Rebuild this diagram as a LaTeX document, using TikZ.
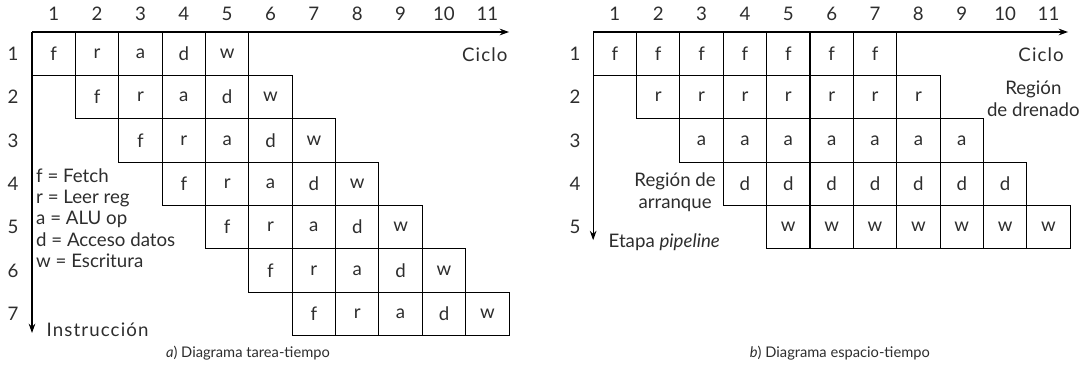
\documentclass[tikz,border=0pt]{standalone}
\usepackage{fontspec}
\setmainfont{Lato}
\newfontfamily\spacedfont[LetterSpace=6]{Lato}
\usetikzlibrary{arrows.meta,positioning}
\definecolor{TxtGray}{RGB}{45,45,45}
\tikzset{
  cell/.style={draw=black,line width=0.75pt,minimum size=32.5pt,inner sep=0pt,text=TxtGray},
  lab/.style={inner sep=1pt,text=TxtGray},
  axis/.style={-{Stealth[length=7pt,width=5pt]},line width=0.8pt,black},
  capt/.style={inner sep=1pt,text=TxtGray,font=\fontsize{11}{13}\selectfont},
}

\begin{document}
\begin{tikzpicture}[x=32.5pt,y=32.5pt,font=\fontsize{14}{16.5}\selectfont]
  \useasboundingbox (-0.738,0.738) rectangle (24.42,-7.957);
  % a) diagrama tarea-tiempo
  \foreach \i in {1,...,7}
    \foreach \s [count=\k] in {f,r,a,d,w}
      \node[cell] (tt-\i-\k) at ({\i+\k-1.5},{0.5-\i}) {\s};
  \coordinate (oa) at (0,0);
  \coordinate (xa) at (11,0);
  \coordinate (ya) at (0,-6.94);
  \draw[axis] (oa) -- (xa);
  \draw[axis] (oa) -- (ya);
  \foreach \c in {1,...,11}
    \node[lab] (ca-\c) at (\c-0.5,0.415) {\c};
  \foreach \r in {1,...,7}
    \node[lab] (ra-\r) at (-0.44,0.5-\r) {\r};
  \node[lab,anchor=east] (cicloa) at (11,-0.53) {\spacedfont Ciclo};
  \node[lab,anchor=west] (instr) at (0.3,-6.86) {\spacedfont Instrucción};
  \foreach \t [count=\n] in {{f = Fetch},{r = Leer reg},{a = ALU op},{d = Acceso datos},{w = Escritura}}
    \node[lab,anchor=base west] (leg-\n) at (0.06,{-3.48-(\n-1)*0.485}) {\t};
  \node[capt] (capa) at (4.98,-7.40) {\textit{a}) Diagrama tarea-tiempo};
  % b) diagrama espacio-tiempo
  \begin{scope}[shift={(12.94,0)}]
    \foreach \s [count=\i] in {f,r,a,d,w}
      \foreach \k in {1,...,7}
        \node[cell] (st-\i-\k) at ({\i+\k-1.5},{0.5-\i}) {\s};
    \coordinate (ob) at (0,0);
    \coordinate (xb) at (10.95,0);
    \coordinate (yb) at (0,-4.8);
    \draw[axis] (ob) -- (xb);
    \draw[axis] (ob) -- (yb);
    \foreach \c in {1,...,11}
      \node[lab] (cb-\c) at (\c-0.5,0.415) {\c};
    \foreach \r in {1,...,5}
      \node[lab] (rb-\r) at (-0.42,0.5-\r) {\r};
    \node[lab,anchor=east] (ciclob) at (10.89,-0.53) {\spacedfont Ciclo};
    \node[lab,align=center] (drenado) at (10.15,-1.55) {Región\\de drenado};
    \node[lab,align=center] (arranque) at (1.89,-3.70) {Región de\\arranque};
    \node[lab,anchor=west] (etapa) at (0.32,-4.84) {Etapa \textit{pipeline}};
    \node[capt] (capb) at (5.69,-7.40) {\textit{b}) Diagrama espacio-tiempo};
  \end{scope}
\end{tikzpicture}
\end{document}
